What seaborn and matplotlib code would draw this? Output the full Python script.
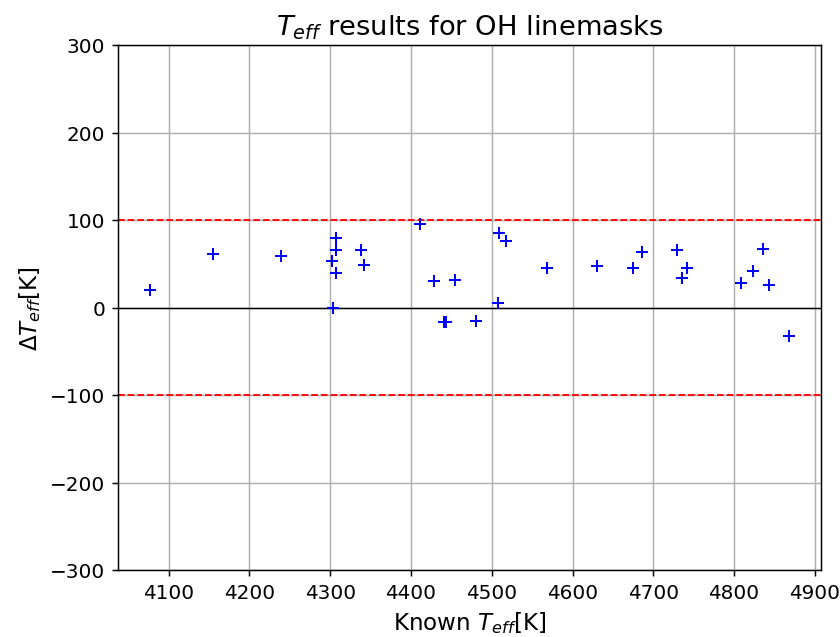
import matplotlib
matplotlib.use("Agg")
import matplotlib.pyplot as plt
import seaborn as sns
import pandas as pd

# Known effective temperatures [K] and the offsets found with the OH linemasks [K]
known_teff = [4077, 4155, 4239, 4307, 4307, 4302, 4307, 4304, 4338, 4342,
              4411, 4428, 4455, 4441, 4444, 4480, 4509, 4518, 4508, 4569,
              4630, 4675, 4686, 4729, 4742, 4736, 4808, 4824, 4836, 4843,
              4868]
delta_teff = [20, 61, 59, 79, 66, 53, 40, -1, 66, 49,
              95, 30, 31, -16, -17, -15, 85, 76, 5, 45,
              48, 45, 63, 66, 45, 34, 28, 42, 67, 26,
              -32]

limits = [100, -100]

df = pd.DataFrame({"known": known_teff, "delta": delta_teff})

fig = plt.figure(figsize=(6.4, 4.86), dpi=131.25)
ax = fig.add_axes([118 / 840, 1 - 571 / 638, (821 - 118) / 840, (571 - 46) / 638])

sns.scatterplot(data=df, x="known", y="delta", ax=ax, marker="+",
                color="blue", s=44, linewidth=1.1, zorder=3)

for lim in limits:
    ax.axhline(lim, color="red", linestyle="--", linewidth=1.0)
ax.axhline(0, color="black", linewidth=0.8)

ax.set_ylim(-300, 300)
ax.set_yticks([-300, -200, -100, 0, 100, 200, 300])
ax.set_xticks(range(4100, 5000, 100))
ax.grid(True, color="#b0b0b0", linewidth=0.8)
ax.set_axisbelow(True)
ax.tick_params(labelsize=11)

ax.set_title(r"$T_{eff}$ results for OH linemasks", fontsize=15)
ax.set_xlabel(r"Known $T_{eff}$[K]", fontsize=12.6)
ax.set_ylabel(r"$\Delta T_{eff}$[K]", fontsize=12.6)

fig.savefig("out.png", dpi=131.25)
